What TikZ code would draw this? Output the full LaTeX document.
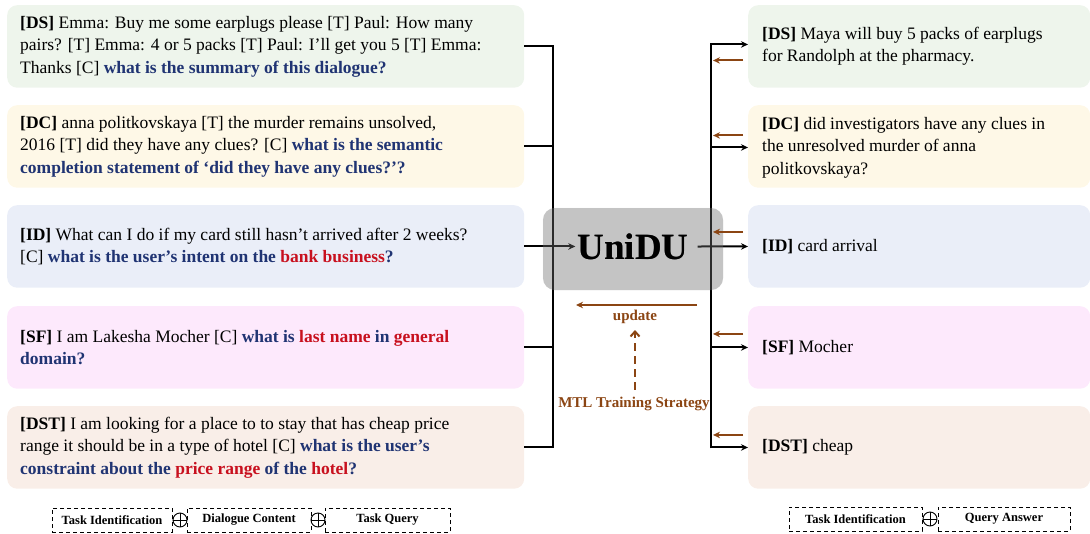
\documentclass[tikz,border=0pt]{standalone}
\usepackage{fontspec}
\setmainfont{Liberation Serif}
\usetikzlibrary{arrows.meta,calc}
\definecolor{cDS}{HTML}{EEF5EC}
\definecolor{cDC}{HTML}{FEF8E7}
\definecolor{cID}{HTML}{EAEEF8}
\definecolor{cSF}{HTML}{FDE9FC}
\definecolor{cDST}{HTML}{F9EEE8}
\definecolor{cUni}{HTML}{C4C4C4}
\definecolor{qblue}{RGB}{32,52,115}
\definecolor{qred}{RGB}{200,16,30}
\definecolor{brn}{RGB}{139,69,19}
\newcommand{\bluetxt}[1]{\textbf{\color{qblue}#1}}
\newcommand{\redtxt}[1]{\textbf{\color{qred}#1}}
\begin{document}
\begin{tikzpicture}[x=1pt,y=-1pt,
  lbox/.style={rounded corners=10pt, minimum width=517pt, minimum height=82.5pt, inner sep=0pt, anchor=north west},
  rbox/.style={rounded corners=10pt, minimum width=342pt, minimum height=82.5pt, inner sep=0pt, anchor=north west},
  txt/.style={anchor=west, align=left, inner sep=0pt, font=\fontsize{17.5}{22.5}\selectfont},
  conn/.style={line width=2pt},
  arr/.style={line width=2pt, -{Stealth[length=7pt,width=6.5pt]}},
  barr/.style={line width=2pt, draw=brn, -{Stealth[length=7pt,width=6.5pt]}},
  lgd/.style={draw, dashed, dash pattern=on 4pt off 3pt, line width=0.9pt, minimum height=24pt, inner sep=0pt, font=\fontsize{12.5}{14}\selectfont\bfseries},
  oplus/.style={circle, draw, line width=0.9pt, minimum size=14pt, inner sep=0pt},
  brlbl/.style={text=brn, font=\fontsize{15}{17}\selectfont\bfseries, inner sep=1pt}
]
\useasboundingbox (0,0) rectangle (1090,533);

% left boxes
\node[lbox, fill=cDS] (ds) at (7,5) {};
\node[lbox, fill=cDC] (dc) at (7,105) {};
\node[lbox, fill=cID] (id) at (7,205) {};
\node[lbox, fill=cSF] (sf) at (7,306) {};
\node[lbox, fill=cDST] (dst) at (7,406) {};

\node[txt] (dstx) at ($(ds.west)+(13,0)$) {\textbf{[DS]} Emma: Buy me some earplugs please [T] Paul: How many\\pairs? [T] Emma: 4 or 5 packs [T] Paul: I’ll get you 5 [T] Emma:\\Thanks [C] \bluetxt{what is the summary of this dialogue?}};
\node[txt] (dctx) at ($(dc.west)+(13,0)$) {\textbf{[DC]} anna politkovskaya [T] the murder remains unsolved,\\2016 [T] did they have any clues? [C] \bluetxt{what is the semantic}\\\bluetxt{completion statement of ‘did they have any clues?’?}};
\node[txt] (idtx) at ($(id.west)+(13,0)$) {\textbf{[ID]} What can I do if my card still hasn’t arrived after 2 weeks?\\{[C]} \bluetxt{what is the user’s intent on the} \redtxt{bank business}\bluetxt{?}};
\node[txt] (sftx) at ($(sf.west)+(13,0)$) {\textbf{[SF]} I am Lakesha Mocher [C] \bluetxt{what is} \redtxt{last name} \bluetxt{in} \redtxt{general}\\\bluetxt{domain?}};
\node[txt] (dsttx) at ($(dst.west)+(13,0)$) {\textbf{[DST]} I am looking for a place to to stay that has cheap price\\range it should be in a type of hotel [C] \bluetxt{what is the user’s}\\\bluetxt{constraint about the} \redtxt{price range} \bluetxt{of the} \redtxt{hotel}\bluetxt{?}};

% right boxes
\node[rbox, fill=cDS] (rds) at (748,5) {};
\node[rbox, fill=cDC] (rdc) at (748,105) {};
\node[rbox, fill=cID] (rid) at (748,205) {};
\node[rbox, fill=cSF] (rsf) at (748,306) {};
\node[rbox, fill=cDST] (rdst) at (748,406) {};

\node[txt] (rdstx) at ($(rds.west)+(14,0)$) {\textbf{[DS]} Maya will buy 5 packs of earplugs\\for Randolph at the pharmacy.};
\node[txt] (rdctx) at ($(rdc.west)+(14,1)$) {\textbf{[DC]} did investigators have any clues in\\the unresolved murder of anna\\politkovskaya?};
\node[txt] (ridtx) at ($(rid.west)+(14,0)$) {\textbf{[ID]} card arrival};
\node[txt] (rsftx) at ($(rsf.west)+(14,0)$) {\textbf{[SF]} Mocher};
\node[txt] (rdsttx) at ($(rdst.west)+(14,0)$) {\textbf{[DST]} cheap};

% central box
\node[fill=cUni, rounded corners=12pt, minimum width=180pt, minimum height=82pt, inner sep=0pt] (unibox) at (633,249) {};
\coordinate (busL) at (553,0);
\coordinate (busR) at (711,0);
\node[inner sep=2pt, font=\fontsize{37}{40}\selectfont\bfseries] (unidu) at (633,246.5) {UniDU};

% left bus
\draw[conn] (ds.east) -- (ds.east -| busL) -- (dst.east -| busL) -- (dst.east);
\draw[conn] (dc.east) -- (dc.east -| busL);
\draw[conn] (sf.east) -- (sf.east -| busL);
\draw[arr] (id.east) -- (id.east -| unidu.west);

% right bus
\coordinate (a1) at ($(rds.west)+(0,-2)$);
\coordinate (a2) at ($(rdc.west)+(0,1)$);
\draw[arr] ($(rdst.west -| busR)+(0,1)$) -- (a1 -| busR) -- (a1);
\draw[arr] (a2 -| busR) -- (a2);
\draw[arr] (rsf.west -| busR) -- (rsf.west);
\draw[arr] (rdst.west -| busR) -- (rdst.west);
\draw[arr] ($(unidu.east)+(7,0)$) -- (rid.west);

% overlay to tint lines inside the box
\fill[cUni, opacity=0.22, rounded corners=12pt] (unibox.north west) rectangle (unibox.south east);
\node[inner sep=2pt, font=\fontsize{37}{40}\selectfont\bfseries] at (unidu) {UniDU};

% brown feedback arrows
\draw[barr] ($(rds.west)+(-5,14)$) -- ($(rds.west -| busR)+(2,14)$);
\draw[barr] ($(rdc.west)+(-5,-11)$) -- ($(rdc.west -| busR)+(2,-11)$);
\draw[barr] ($(rid.west)+(-5,-14.5)$) -- ($(rid.west -| busR)+(2,-14.5)$);
\draw[barr] ($(rsf.west)+(-5,-13.5)$) -- ($(rsf.west -| busR)+(2,-13.5)$);
\draw[barr] ($(rdst.west)+(-5,-12.5)$) -- ($(rdst.west -| busR)+(2,-12.5)$);

% update
\coordinate (updR) at (697,305);
\coordinate (updL) at (576,305);
\draw[barr] (updR) -- (updL);
\node[brlbl] (upd) at (635,317) {update};
\node[brlbl] (mtl) at (634,404) {MTL Training Strategy};
\draw[line width=2pt, draw=brn, dash pattern=on 8pt off 5pt, -{Straight Barb[length=5pt,width=9pt]}, shorten <=6pt, shorten >=5pt] (mtl.north -| upd.south) -- (upd.south);

% legends
\node[lgd, minimum width=120pt] (ti1) at (112,520) {Task Identification};
\node[oplus] (p1) at (180,520) {};
\node[lgd, minimum width=124pt] (dcl) at (249,520) {Dialogue Content};
\node[oplus] (p2) at (318,520) {};
\node[lgd, minimum width=125pt, text depth=4pt] (tq) at (387.5,520) {Task Query};
\node[lgd, minimum width=133pt] (ti2) at (855.5,519) {Task Identification};
\node[oplus] (p3) at (930,519) {};
\node[lgd, minimum width=132pt] (qa) at (1004,519) {Query Answer};
\foreach \p in {p1,p2,p3}{\draw[line width=0.9pt] (\p.north) -- (\p.south) (\p.west) -- (\p.east);}
\end{tikzpicture}
\end{document}
